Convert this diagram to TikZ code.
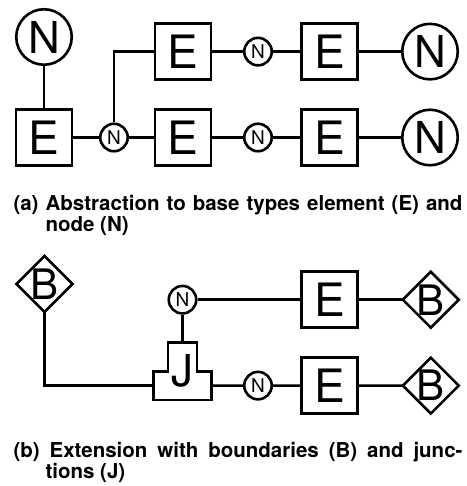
\documentclass[tikz,border=0pt]{standalone}
\usepackage{fontspec}
\setmainfont{TeX Gyre Heros}
\usetikzlibrary{calc}
\begin{document}
\begin{tikzpicture}[x=1pt,y=-1pt,
  lw/.style={line width=2.6pt},
  wire/.style={lw},
  ebox/.style={draw, lw, rectangle, minimum width=56pt, minimum height=56pt, inner sep=0pt, font=\fontsize{46}{46}\selectfont},
  bign/.style={draw, lw, circle, minimum size=55.5pt, inner sep=0pt, font=\fontsize{44}{44}\selectfont},
  smalln/.style={draw, lw, circle, minimum size=27.5pt, inner sep=0pt, font=\fontsize{19}{19}\selectfont},
  bbox/.style={rectangle, minimum width=55.5pt, minimum height=55.5pt, inner sep=0pt, font=\fontsize{42}{42}\selectfont},
  jbox/.style={rectangle, minimum width=58pt, minimum height=57pt, inner sep=0pt, font=\fontsize{44}{44}\selectfont},
  diam/.style={lw, line join=miter},
  caption/.style={anchor=base west, align=left, inner sep=0pt, font=\fontsize{20.5}{21}\selectfont\bfseries}
]
\useasboundingbox (0,0) rectangle (466,486);

% (a)
\node[bign] (na1) at (44,37) {N};
\node[ebox] (ea1) at (44,137.5) {E};
\node[smalln] (na2) at (114,137.5) {N};
\node[ebox] (ea2) at (183,137.5) {E};
\node[smalln] (na3) at (258,137.5) {N};
\node[ebox] (ea3) at (329.5,137.5) {E};
\node[bign] (na4) at (430,137.5) {N};
\node[ebox] (ea4) at (183,51.6) {E};
\node[smalln] (na5) at (258,51.6) {N};
\node[ebox] (ea5) at (329.5,51.6) {E};
\node[bign] (na6) at (430,51.6) {N};

\draw[wire] (na1) -- (ea1);
\draw[wire] (ea1) -- (na2) -- (ea2) -- (na3) -- (ea3) -- (na4);
\draw[wire] (na2.north) |- (ea4.west);
\draw[wire] (ea4) -- (na5) -- (ea5) -- (na6);

\node[caption] (capa) at (13.3,231) {\makebox[449pt][s]{(a) Abstraction to base types element (E) and}\\\hspace*{32pt}node (N)};

% (b)
\node[bbox] (bb1) at (44.5,284) {B};
\node[smalln] (nb1) at (182.5,299.7) {N};
\node[jbox] (jb) at (182.5,371.3) {J};
\node[smalln] (nb2) at (258,385.6) {N};
\node[ebox] (eb1) at (329.5,299.7) {E};
\node[ebox] (eb2) at (329.5,385.6) {E};
\node[bbox] (bb2) at (430.8,299.7) {B};
\node[bbox] (bb3) at (430.8,385.6) {B};

\foreach \d in {bb1,bb2,bb3}
  \draw[diam] (\d.north) -- (\d.east) -- (\d.south) -- (\d.west) -- cycle;

\draw[diam] (jb.south west) -- (jb.south east) -- (jb.east)
  -- ($(jb.center)+(14.5,0)$) -- ($(jb.north)+(14.5,0)$)
  -- ($(jb.north)+(-14.5,0)$) -- ($(jb.center)+(-14.5,0)$)
  -- (jb.west) -- cycle;
\coordinate (jl) at ($(jb.west)!0.5!(jb.south west)$);
\coordinate (jr) at ($(jb.east)!0.5!(jb.south east)$);

\draw[wire] (bb1.south) |- (jl);
\draw[wire] (nb1.south) -- (jb.north);
\draw[wire] (nb1) -- (eb1) -- (bb2.west);
\draw[wire] (jr) -- (nb2) -- (eb2) -- (bb3.west);

\node[caption] (capb) at (13.3,478.3) {\makebox[449pt][s]{(b) Extension with boundaries (B) and junc-}\\\hspace*{32pt}tions (J)};
\end{tikzpicture}
\end{document}
